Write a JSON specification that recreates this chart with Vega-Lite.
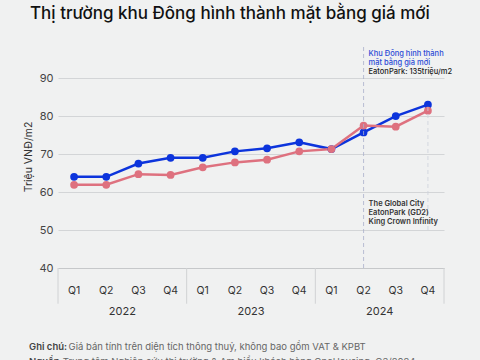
{
  "$schema": "https://vega.github.io/schema/vega-lite/v6.json",
  "width": 386,
  "height": 223,
  "autosize": "none",
  "padding": {"left": 58, "top": 45, "right": 36, "bottom": 92},
  "background": "#f0f1f1",
  "title": {
    "text": "Thị trường khu Đông hình thành mặt bằng giá mới",
    "anchor": "start",
    "frame": "group",
    "dx": -28,
    "offset": 22,
    "font": "Inter",
    "fontSize": 17,
    "fontWeight": 500,
    "color": "#111111"
  },
  "config": {
    "view": {"stroke": null},
    "font": "Inter",
    "axis": {"labelFont": "Inter", "titleFont": "Inter"}
  },
  "datasets": {
    "prices": [
      {"idx": 0.5, "quarter": "Q1", "year": 2022, "series": "A", "value": 64.0},
      {"idx": 1.5, "quarter": "Q2", "year": 2022, "series": "A", "value": 64.0},
      {"idx": 2.5, "quarter": "Q3", "year": 2022, "series": "A", "value": 67.5},
      {"idx": 3.5, "quarter": "Q4", "year": 2022, "series": "A", "value": 69.0},
      {"idx": 4.5, "quarter": "Q1", "year": 2023, "series": "A", "value": 69.0},
      {"idx": 5.5, "quarter": "Q2", "year": 2023, "series": "A", "value": 70.7},
      {"idx": 6.5, "quarter": "Q3", "year": 2023, "series": "A", "value": 71.5},
      {"idx": 7.5, "quarter": "Q4", "year": 2023, "series": "A", "value": 73.1},
      {"idx": 8.5, "quarter": "Q1", "year": 2024, "series": "A", "value": 71.3},
      {"idx": 9.5, "quarter": "Q2", "year": 2024, "series": "A", "value": 75.7},
      {"idx": 10.5, "quarter": "Q3", "year": 2024, "series": "A", "value": 80.0},
      {"idx": 11.5, "quarter": "Q4", "year": 2024, "series": "A", "value": 83.0},
      {"idx": 0.5, "quarter": "Q1", "year": 2022, "series": "B", "value": 61.9},
      {"idx": 1.5, "quarter": "Q2", "year": 2022, "series": "B", "value": 61.9},
      {"idx": 2.5, "quarter": "Q3", "year": 2022, "series": "B", "value": 64.7},
      {"idx": 3.5, "quarter": "Q4", "year": 2022, "series": "B", "value": 64.5},
      {"idx": 4.5, "quarter": "Q1", "year": 2023, "series": "B", "value": 66.5},
      {"idx": 5.5, "quarter": "Q2", "year": 2023, "series": "B", "value": 67.8},
      {"idx": 6.5, "quarter": "Q3", "year": 2023, "series": "B", "value": 68.5},
      {"idx": 7.5, "quarter": "Q4", "year": 2023, "series": "B", "value": 70.7},
      {"idx": 8.5, "quarter": "Q1", "year": 2024, "series": "B", "value": 71.3},
      {"idx": 9.5, "quarter": "Q2", "year": 2024, "series": "B", "value": 77.5},
      {"idx": 10.5, "quarter": "Q3", "year": 2024, "series": "B", "value": 77.2},
      {"idx": 11.5, "quarter": "Q4", "year": 2024, "series": "B", "value": 81.4}
    ],
    "years": [
      {"year": "2022", "mid": 2},
      {"year": "2023", "mid": 6},
      {"year": "2024", "mid": 10}
    ],
    "seps": [{"at": 0}, {"at": 4}, {"at": 8}, {"at": 12}]
  },
  "layer": [
    {
      "data": {"name": "prices"},
      "mark": {"type": "line", "strokeWidth": 2.5, "point": {"filled": true, "size": 60}},
      "encoding": {
        "x": {
          "field": "idx", "type": "quantitative",
          "scale": {"domain": [0, 12], "nice": false, "zero": false},
          "axis": {
            "values": [0, 12],
            "labels": false,
            "title": null,
            "grid": false,
            "ticks": false,
            "domain": true,
            "domainColor": "#c6c8ca"
          }
        },
        "y": {
          "field": "value", "type": "quantitative",
          "scale": {"domain": [40, 98.7], "nice": false, "zero": false},
          "axis": {
            "values": [40, 50, 60, 70, 80, 90],
            "title": "Triệu VNĐ/m2",
            "titleFontWeight": "normal",
            "titleFontSize": 10.5,
            "titleColor": "#333333",
            "titlePadding": 5,
            "grid": true,
            "gridColor": "#d3d5d7",
            "domain": false,
            "ticks": false,
            "labelPadding": 5,
            "labelFontSize": 11,
            "labelColor": "#444444"
          }
        },
        "color": {
          "field": "series", "type": "nominal",
          "scale": {"domain": ["A", "B"], "range": ["#0c34dc", "#de717f"]},
          "legend": null
        },
        "order": {"field": "idx"}
      }
    },
    {
      "data": {"name": "prices"},
      "transform": [{"filter": "datum.series === 'A'"}],
      "mark": {"type": "text", "fontSize": 10.5, "color": "#333333", "baseline": "middle"},
      "encoding": {"x": {"field": "idx", "type": "quantitative"}, "y": {"datum": 34.0}, "text": {"field": "quarter"}}
    },
    {
      "data": {"values": [{}]},
      "mark": {"type": "rule", "color": "#aab1cc", "strokeDash": [4, 3], "strokeWidth": 0.8},
      "encoding": {"x": {"datum": 9.5, "type": "quantitative"}, "y": {"datum": 40}, "y2": {"datum": 98.7}}
    },
    {
      "data": {"values": [{}]},
      "mark": {"type": "rule", "color": "#ccd0da", "strokeDash": [4, 3], "strokeWidth": 0.8},
      "encoding": {"x": {"datum": 11.5, "type": "quantitative"}, "y": {"datum": 50}, "y2": {"datum": 82.5}}
    },
    {
      "data": {"name": "seps"},
      "mark": {"type": "rule", "color": "#d0d2d4", "strokeWidth": 1},
      "encoding": {"x": {"field": "at", "type": "quantitative"}, "y": {"datum": 40}, "y2": {"datum": 30.6}}
    },
    {
      "data": {"name": "years"},
      "mark": {"type": "text", "fontSize": 11, "color": "#333333", "baseline": "middle"},
      "encoding": {"x": {"field": "mid", "type": "quantitative"}, "y": {"datum": 28.5}, "text": {"field": "year"}}
    },
    {
      "data": {"values": [{"t": "Khu Đông hình thành"}]},
      "mark": {"type": "text", "fontSize": 7.5, "fontWeight": 500, "color": "#2c4bd6", "align": "left", "baseline": "middle", "dx": 5},
      "encoding": {"x": {"datum": 9.5, "type": "quantitative"}, "y": {"datum": 96.2}, "text": {"field": "t"}}
    },
    {
      "data": {"values": [{"t": "mặt bằng giá mới"}]},
      "mark": {"type": "text", "fontSize": 7.5, "fontWeight": 500, "color": "#2c4bd6", "align": "left", "baseline": "middle", "dx": 5},
      "encoding": {"x": {"datum": 9.5, "type": "quantitative"}, "y": {"datum": 94.0}, "text": {"field": "t"}}
    },
    {
      "data": {"values": [{"t": "EatonPark: 135triệu/m2"}]},
      "mark": {"type": "text", "fontSize": 7.5, "fontWeight": 500, "color": "#222222", "align": "left", "baseline": "middle", "dx": 5},
      "encoding": {"x": {"datum": 9.5, "type": "quantitative"}, "y": {"datum": 91.6}, "text": {"field": "t"}}
    },
    {
      "data": {"values": [{"t": "The Global City"}]},
      "mark": {"type": "text", "fontSize": 7.5, "fontWeight": 600, "color": "#333333", "align": "left", "baseline": "middle", "dx": 5},
      "encoding": {"x": {"datum": 9.5, "type": "quantitative"}, "y": {"datum": 56.8}, "text": {"field": "t"}}
    },
    {
      "data": {"values": [{"t": "EatonPark (GD2)"}]},
      "mark": {"type": "text", "fontSize": 7.5, "fontWeight": 600, "color": "#333333", "align": "left", "baseline": "middle", "dx": 5},
      "encoding": {"x": {"datum": 9.5, "type": "quantitative"}, "y": {"datum": 54.4}, "text": {"field": "t"}}
    },
    {
      "data": {"values": [{"t": "King Crown Infinity"}]},
      "mark": {"type": "text", "fontSize": 7.5, "fontWeight": 600, "color": "#333333", "align": "left", "baseline": "middle", "dx": 5},
      "encoding": {"x": {"datum": 9.5, "type": "quantitative"}, "y": {"datum": 52.0}, "text": {"field": "t"}}
    },
    {
      "data": {"values": [{"t": "Ghi chú:"}]},
      "mark": {"type": "text", "fontSize": 9.5, "fontWeight": 600, "color": "#444444", "align": "left", "baseline": "middle"},
      "encoding": {"x": {"datum": -0.9, "type": "quantitative"}, "y": {"datum": 19.3}, "text": {"field": "t"}}
    },
    {
      "data": {"values": [{"t": "Giá bán tính trên diện tích thông thuỷ, không bao gồm VAT & KPBT"}]},
      "mark": {"type": "text", "fontSize": 9.5, "color": "#666666", "align": "left", "baseline": "middle"},
      "encoding": {"x": {"datum": 0.33, "type": "quantitative"}, "y": {"datum": 19.3}, "text": {"field": "t"}}
    },
    {
      "data": {"values": [{"t": "Nguồn:"}]},
      "mark": {"type": "text", "fontSize": 9.5, "fontWeight": 600, "color": "#444444", "align": "left", "baseline": "middle"},
      "encoding": {"x": {"datum": -0.9, "type": "quantitative"}, "y": {"datum": 15.3}, "text": {"field": "t"}}
    },
    {
      "data": {"values": [{"t": "Trung tâm Nghiên cứu thị trường & Am hiểu khách hàng OneHousing, Q3/2024"}]},
      "mark": {"type": "text", "fontSize": 9.5, "color": "#666666", "align": "left", "baseline": "middle"},
      "encoding": {"x": {"datum": 0.15, "type": "quantitative"}, "y": {"datum": 15.3}, "text": {"field": "t"}}
    }
  ]
}
